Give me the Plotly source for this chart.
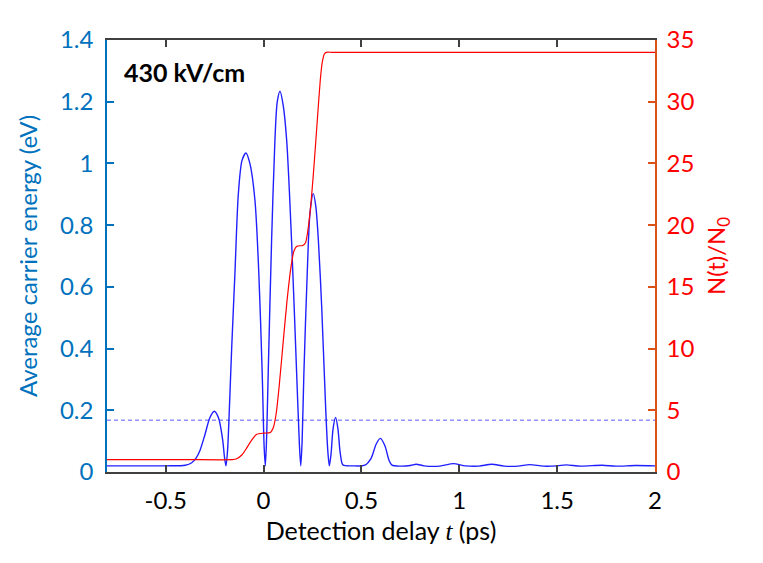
import plotly.graph_objects as go

# Average carrier energy (eV), left axis
t_energy = [-0.8, -0.5, -0.4, -0.367, -0.345, -0.325, -0.3, -0.275, -0.252, -0.23, -0.209, -0.2, -0.192,
            -0.184, -0.175, -0.163, -0.146, -0.129, -0.11, -0.09, -0.07, -0.044, -0.024, -0.007, 0.003, 0.009,
            0.016, 0.024, 0.041, 0.058, 0.07, 0.084, 0.1, 0.118, 0.143, 0.169, 0.183, 0.19,
            0.197, 0.206, 0.223, 0.237, 0.254, 0.267, 0.28, 0.297, 0.317, 0.328, 0.336,
            0.345, 0.355, 0.368, 0.38, 0.39, 0.4, 0.407, 0.45, 0.518, 0.55, 0.575, 0.597, 0.62, 0.64, 0.656,
            0.7, 0.75, 0.78, 0.82, 0.9, 0.97, 1.03, 1.1, 1.165, 1.23, 1.3, 1.36, 1.43, 1.5, 1.545, 1.62,
            1.73, 1.8, 1.9, 2.0]
energy = [0.02, 0.02, 0.022, 0.03, 0.045, 0.07, 0.12, 0.175, 0.197, 0.175, 0.104, 0.05, 0.02,
          0.07, 0.2, 0.4, 0.65, 0.9, 1.01, 1.034, 1.0, 0.88, 0.64, 0.32, 0.08, 0.02,
          0.12, 0.33, 0.75, 1.075, 1.2, 1.234, 1.19, 1.075, 0.75, 0.32, 0.09, 0.02,
          0.1, 0.32, 0.643, 0.837, 0.902, 0.86, 0.751, 0.535, 0.211, 0.07, 0.02,
          0.06, 0.14, 0.177, 0.14, 0.07, 0.03, 0.022, 0.02, 0.022, 0.045, 0.09, 0.109, 0.085, 0.04, 0.022,
          0.019, 0.021, 0.025, 0.02, 0.019, 0.027, 0.02, 0.019, 0.025, 0.019, 0.019, 0.024, 0.019, 0.02, 0.023, 0.019,
          0.022, 0.019, 0.021, 0.02]

# N(t)/N0, right axis
t_density = [-0.8, -0.4, -0.16, -0.14, -0.11, -0.086, -0.06, -0.035, 0.0, 0.035, 0.05, 0.065, 0.08, 0.1, 0.12,
             0.14, 0.155, 0.17, 0.2, 0.215, 0.23, 0.245, 0.26, 0.275, 0.29, 0.3, 0.31, 0.32, 0.35, 0.5,
             1.0, 1.5, 2.0]
density = [1.0, 1.0, 1.0, 1.05, 1.4, 1.95, 2.6, 3.05, 3.15, 3.2, 3.6, 4.8, 7.0, 10.5, 13.9,
           16.6, 17.9, 18.3, 18.35, 18.6, 20.0, 22.3, 25.3, 28.6, 31.8, 33.2, 33.85, 34.0, 34.0, 34.0,
           34.0, 34.0, 34.0]

# dashed reference level (eV)
t_level = [-0.8, 2.0]
level = [0.168, 0.168]

x_tickvals = [-0.5, 0, 0.5, 1, 1.5, 2]
x_ticktext = ["-0.5", "0", "0.5", "1", "1.5", "2"]
y_tickvals = [0, 0.2, 0.4, 0.6, 0.8, 1.0, 1.2, 1.4]
y_ticktext = ["0", "0.2", "0.4", "0.6", "0.8", "1", "1.2", "1.4"]
y2_tickvals = [0, 5, 10, 15, 20, 25, 30, 35]

FONT = "Lato"
LEFT_C = "#0072BD"
RIGHT_AX = "#D95319"
RED = "#FF0000"
DARK = "#404040"

fig = go.Figure()
fig.add_trace(go.Scatter(x=t_level, y=level, mode="lines",
                         line=dict(color="#5a5aff", width=1, dash="4px,3px"),
                         showlegend=False, hoverinfo="skip"))
fig.add_trace(go.Scatter(x=t_energy, y=energy, mode="lines",
                         line=dict(color="#2020ff", width=1.4, shape="spline", smoothing=0.8),
                         showlegend=False))
fig.add_trace(go.Scatter(x=t_density, y=density, mode="lines", yaxis="y2",
                         line=dict(color=RED, width=1.2, shape="spline", smoothing=0.6),
                         showlegend=False))

fig.update_layout(
    width=763, height=563,
    margin=dict(l=107, r=108, t=40, b=91, autoexpand=False),
    paper_bgcolor="white", plot_bgcolor="white",
    font=dict(family=FONT, size=22, color="black"),
    xaxis=dict(range=[-0.8, 2.0], tickvals=x_tickvals, ticktext=x_ticktext,
               showline=True, linecolor=DARK, linewidth=1.5, mirror="ticks",
               ticks="inside", ticklen=7, tickcolor=DARK, tickwidth=1.5,
               showgrid=False, zeroline=False, ticklabelstandoff=6,
               tickfont=dict(family=FONT, size=24, color="black"),
               title=dict(text="Detection delay <span style=\"font-family:'Liberation Serif';font-style:italic\">t</span> (ps)",
                          font=dict(family=FONT, size=25, color="black"), standoff=10)),
    yaxis=dict(range=[0, 1.4], tickvals=y_tickvals, ticktext=y_ticktext,
               showline=True, linecolor=LEFT_C, linewidth=1.5,
               ticks="inside", ticklen=7, tickcolor=LEFT_C, tickwidth=1.5,
               showgrid=False, zeroline=False, ticklabelstandoff=7,
               tickfont=dict(family=FONT, size=24, color=LEFT_C),
               title=dict(text="Average carrier energy (eV)",
                          font=dict(family=FONT, size=24, color=LEFT_C), standoff=16)),
    yaxis2=dict(range=[0, 35], tickvals=y2_tickvals, overlaying="y", side="right",
                showline=True, linecolor=RIGHT_AX, linewidth=1.5,
                ticks="inside", ticklen=7, tickcolor=RIGHT_AX, tickwidth=1.5,
                showgrid=False, zeroline=False, ticklabelstandoff=5,
                tickfont=dict(family=FONT, size=24, color=RED),
                title=dict(text="N(t)/N<sub>0</sub>",
                           font=dict(family=FONT, size=24, color=RED), standoff=15)),
    annotations=[dict(text="<b>430 kV/cm</b>", xref="paper", yref="paper",
                      x=0.027, y=0.925, xanchor="left", yanchor="middle", showarrow=False,
                      font=dict(family=FONT, size=25, color="black"))],
)

fig.write_html("out.html", config={"displayModeBar": False},
               post_script="document.body.style.margin='0';")
